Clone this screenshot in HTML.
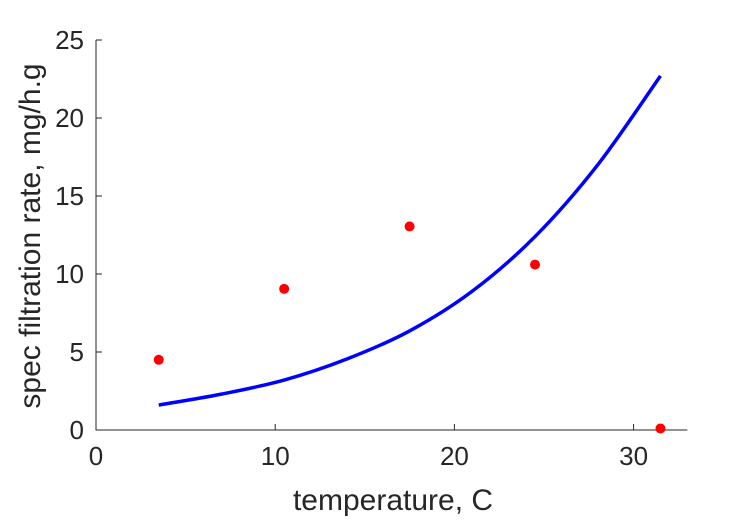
<!DOCTYPE html>
<html><head><meta charset="utf-8"><style>
body{margin:0;background:#fff}
text{font-family:"Liberation Sans",sans-serif;fill:#262626}
</style></head><body>
<svg width="729" height="521">
<g id="g"></g>
</svg>
<script>
const xTicks=[0,10,20,30];
const yTicks=[0,5,10,15,20,25];
const obsX=[3.5,10.5,17.5,24.5,31.5];
const obsY=[4.5,9.05,13.05,10.6,0.1];
const fitX=[3.5,7,10.5,14,17.5,21,24.5,28,31.5];
const fitY=[1.6,2.3,3.2,4.55,6.35,8.9,12.4,17.0,22.7];
const X=v=>96+v*17.92, Y=v=>430-v*15.6;
const g=document.getElementById('g'),NS='http://www.w3.org/2000/svg';
function mk(t,a){const e=document.createElementNS(NS,t);for(const k in a)e.setAttribute(k,a[k]);g.appendChild(e);return e;}
let e=mk('path',{d:`M96,${Y(25)}V430H${X(33)}`,fill:'none',stroke:'#262626','stroke-width':1});


xTicks.forEach(v=>{mk('line',{x1:X(v),x2:X(v),y1:430,y2:424,stroke:'#262626'});
const t=mk('text',{x:X(v),y:465,'text-anchor':'middle','font-size':26});t.textContent=v;

});
yTicks.forEach(v=>{mk('line',{x1:96,x2:102,y1:Y(v),y2:Y(v),stroke:'#262626'});
const t=mk('text',{x:84,y:Y(v)+9,'text-anchor':'end','font-size':26});t.textContent=v;

});
let xl=mk('text',{x:393,y:510,'text-anchor':'middle','font-size':30});xl.textContent='temperature, C';


let yl=mk('text',{x:0,y:0,'text-anchor':'middle','font-size':30,transform:'translate(40,236) rotate(-90)'});yl.textContent='spec filtration rate, mg/h.g';


// smooth path (Catmull-Rom) through fit samples
const P=fitX.map((x,i)=>[X(x),Y(fitY[i])]);
let d='M'+P[0][0]+','+P[0][1];
for(let i=0;i<P.length-1;i++){const p0=P[Math.max(0,i-1)],p1=P[i],p2=P[i+1],p3=P[Math.min(P.length-1,i+2)];
d+=` C${p1[0]+(p2[0]-p0[0])/6},${p1[1]+(p2[1]-p0[1])/6} ${p2[0]-(p3[0]-p1[0])/6},${p2[1]-(p3[1]-p1[1])/6} ${p2[0]},${p2[1]}`;}
let ln=mk('path',{d:d,fill:'none',stroke:'#0000ff','stroke-width':3.5});


obsX.forEach((x,i)=>{const c=mk('circle',{cx:X(x),cy:Y(obsY[i]),r:5,fill:'#ff0000'});

});
</script>
</body></html>
